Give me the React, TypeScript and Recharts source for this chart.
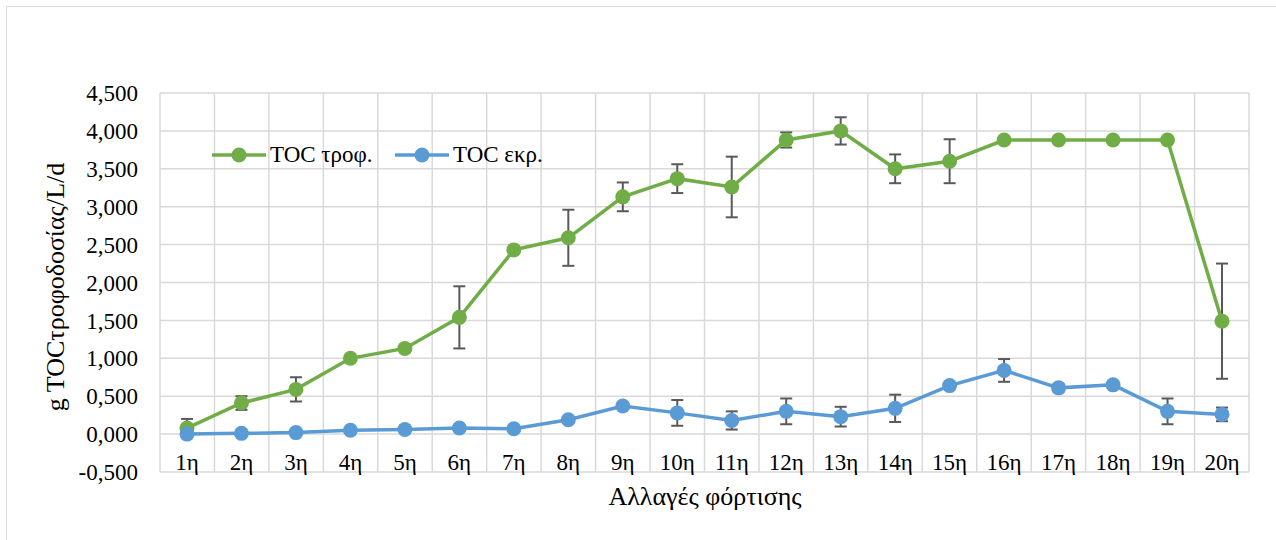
import React from 'react';
import { LineChart, Line, XAxis, YAxis, CartesianGrid, ErrorBar } from 'recharts';

const categories = ['1η', '2η', '3η', '4η', '5η', '6η', '7η', '8η', '9η', '10η', '11η', '12η', '13η', '14η', '15η', '16η', '17η', '18η', '19η', '20η'];

const feedValues = [0.08, 0.41, 0.59, 1.0, 1.13, 1.54, 2.43, 2.59, 3.13, 3.37, 3.26, 3.88, 4.0, 3.5, 3.6, 3.88, 3.88, 3.88, 3.88, 1.49];
const feedErrors = [0.12, 0.09, 0.16, 0.0, 0.05, 0.41, 0.0, 0.37, 0.19, 0.19, 0.4, 0.1, 0.18, 0.19, 0.29, 0.0, 0.0, 0.0, 0.0, 0.76];

const effluentValues = [0.0, 0.01, 0.02, 0.05, 0.06, 0.08, 0.07, 0.19, 0.37, 0.28, 0.18, 0.3, 0.23, 0.34, 0.64, 0.84, 0.61, 0.65, 0.3, 0.26];
const effluentErrors = [0.0, 0.0, 0.0, 0.0, 0.0, 0.03, 0.0, 0.0, 0.03, 0.17, 0.12, 0.17, 0.13, 0.18, 0.0, 0.15, 0.05, 0.0, 0.17, 0.09];

const yTicks = [-0.5, 0, 0.5, 1, 1.5, 2, 2.5, 3, 3.5, 4, 4.5];

const data = categories.map((name, i) => ({
  name,
  feed: feedValues[i],
  feedErr: feedErrors[i],
  effluent: effluentValues[i],
  effluentErr: effluentErrors[i],
}));

const FONT = '"Liberation Serif", "Times New Roman", serif';
const FS = 23;
const TITLE_FS = 26;
const GREEN = '#70AD47';
const BLUE = '#5B9BD5';
const GRID = '#D9D9D9';

const fmt = (v: number) => v.toFixed(3).replace('.', ',');

const XTick = ({ x, y, payload }: any) => (
  <text x={x} y={y - 10} textAnchor="middle" fontFamily={FONT} fontSize={FS} fill="#000">
    {payload.value}
  </text>
);

const LegendItem = ({ color, label, left }: { color: string; label: string; left: number }) => (
  <div style={{ position: 'absolute', left, top: 141, height: 28, display: 'flex', alignItems: 'center' }}>
    <svg width={54} height={28}>
      <line x1={0} y1={14} x2={54} y2={14} stroke={color} strokeWidth={3.5} />
      <circle cx={27} cy={14} r={7.5} fill={color} />
    </svg>
    <span style={{ fontFamily: FONT, fontSize: FS, marginLeft: 4, color: '#000', lineHeight: '28px' }}>{label}</span>
  </div>
);

export default function App() {
  return (
    <div style={{ position: 'absolute', left: 0, top: 0, width: 1276, height: 540, background: '#fff' }}>
      <div style={{ position: 'absolute', left: 6, top: 6, right: 0, bottom: 0, borderLeft: `1.5px solid ${GRID}`, borderTop: `1.5px solid ${GRID}` }} />
      <LineChart width={1276} height={540} data={data} margin={{ top: 93, right: 27, bottom: 38, left: 0 }}>
        <CartesianGrid
          stroke={GRID}
          strokeWidth={1.5}
          verticalCoordinatesGenerator={({ offset }: any) =>
            categories.map((_, i) => offset.left + (i * offset.width) / categories.length).concat(offset.left + offset.width)
          }
        />
        <XAxis
          dataKey="name"
          axisLine={false}
          tickLine={false}
          tick={<XTick />}
          interval={0}
          height={30}
          padding={{ left: 27, right: 27 }}
        />
        <YAxis
          width={160}
          domain={[-0.5, 4.5]}
          ticks={yTicks}
          tickFormatter={fmt}
          axisLine={false}
          tickLine={false}
          tickMargin={16}
          tick={{ fontFamily: FONT, fontSize: FS, fill: '#000' }}
        />
        <Line
          dataKey="feed"
          stroke={GREEN}
          strokeWidth={3.5}
          dot={{ r: 7.5, fill: GREEN, stroke: GREEN, strokeWidth: 0 }}
          activeDot={false}
          isAnimationActive={false}
        >
          <ErrorBar dataKey="feedErr" direction="y" width={6} stroke="#595959" strokeWidth={2} />
        </Line>
        <Line
          dataKey="effluent"
          stroke={BLUE}
          strokeWidth={3.5}
          dot={{ r: 7.5, fill: BLUE, stroke: BLUE, strokeWidth: 0 }}
          activeDot={false}
          isAnimationActive={false}
        >
          <ErrorBar dataKey="effluentErr" direction="y" width={6} stroke="#595959" strokeWidth={2} />
        </Line>
      </LineChart>
      <LegendItem color={GREEN} label="TOC τροφ." left={212} />
      <LegendItem color={BLUE} label="TOC εκρ." left={395} />
      <div
        style={{
          position: 'absolute',
          left: 56,
          top: 287,
          transform: 'translate(-50%, -50%) rotate(-90deg)',
          fontFamily: FONT,
          fontSize: TITLE_FS,
          whiteSpace: 'nowrap',
          color: '#000',
        }}
      >
        g TOCτροφοδοσίας/L/d
      </div>
      <div
        style={{
          position: 'absolute',
          left: 705,
          top: 497,
          transform: 'translate(-50%, -50%)',
          fontFamily: FONT,
          fontSize: TITLE_FS,
          whiteSpace: 'nowrap',
          color: '#000',
        }}
      >
        Αλλαγές φόρτισης
      </div>
    </div>
  );
}
